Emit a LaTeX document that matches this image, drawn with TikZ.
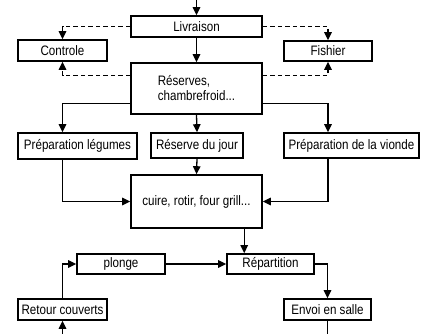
\documentclass[tikz,border=0pt]{standalone}
\usepackage{fontspec}
\usepackage{graphicx}
\setmainfont{Liberation Sans}
\usetikzlibrary{arrows.meta,calc}
\newcommand{\tall}[1]{\scalebox{1}[1.18]{#1}}
\tikzset{
  box/.style={
    draw,
    line width=1.6pt,
    inner sep=0pt,
    font=\fontsize{11.6}{15}\selectfont
  },
  link/.style={
    line width=1.3pt,
    -{Triangle[length=8pt,width=7.5pt]}
  },
  dlink/.style={
    link,
    dash pattern=on 4.5pt off 3pt
  }
}

\begin{document}
\begin{tikzpicture}[x=1pt,y=-1pt]
        \useasboundingbox (0,0) rectangle (421,334);
        \node[box,minimum width=131pt,minimum height=21pt] (liv) at (196.5,26.5) {\tall{Livraison}};
        \node[box,minimum width=89pt,minimum height=21pt] (ctrl) at (62.5,50.5) {\tall{Controle}};
        \node[box,minimum width=88pt,minimum height=20pt] (fish) at (328,51) {\tall{Fishier}};
        \node[box,minimum width=131pt,minimum height=51pt,align=left] (res) at (196.5,88.5) {\tall{R\'eserves,}\\\tall{chambrefroid...}};
        \node[box,minimum width=119pt,minimum height=26pt] (legu) at (77.5,146) {\tall{Pr\'eparation l\'egumes}};
        \node[box,minimum width=92pt,minimum height=25pt] (jour) at (197,145.5) {\tall{R\'eserve du jour}};
        \node[box,minimum width=135pt,minimum height=25pt] (viand) at (351.5,145.5) {\tall{Pr\'eparation de la vionde}};
        \node[box,minimum width=131pt,minimum height=53pt] (cuire) at (196.5,201.5) {\tall{cuire, rotir, four grill...}};
        \node[box,minimum width=87pt,minimum height=20pt] (rep) at (270.5,264) {\tall{R\'epartition}};
        \node[box,minimum width=88pt,minimum height=20pt] (plonge) at (121,264) {\tall{plonge}};
        \node[box,minimum width=87pt,minimum height=21pt] (envoi) at (327.5,309.5) {\tall{Envoi en salle}};
        \node[box,minimum width=89pt,minimum height=21pt] (retour) at (62.5,309.5) {\tall{Retour couverts}};

        \coordinate (in) at (196.5,0);
        \coordinate (back) at (62.5,334);
        \coordinate (out) at (327.5,334);
        \coordinate (resup) at ($(res.north west)!0.25!(res.south west)$);
        \coordinate (resupr) at ($(res.north east)!0.25!(res.south east)$);
        \coordinate (reslo) at ($(res.north west)!0.78!(res.south west)$);
        \coordinate (reslor) at ($(res.north east)!0.78!(res.south east)$);
        \coordinate (cut) at ([xshift=18pt]rep.north west);

        \draw[link] (in) -- (liv.north);
        \draw[link] (liv.south) -- (res.north);
        \draw[dlink] (liv.west) -| (ctrl.north);
        \draw[dlink] (liv.east) -| (fish.north);
        \draw[dlink] (resup) -| (ctrl.south);
        \draw[dlink] (resupr) -| (fish.south);
        % vers les preparations
        \draw[link] (reslo) -| (ctrl |- legu.north);
        \draw[link] (reslor) -| (fish |- viand.north);
        \draw[link] (res.south) -- (jour.north);
        \draw[link] (jour.south) -- (cuire.north);
        \draw[link] (ctrl |- legu.south) |- (cuire.west);
        \draw[link] (fish |- viand.south) |- (cuire.east);
        % sortie
        \draw[link] (cut |- cuire.south) -- (cut);
        \draw[link] (plonge.east) -- (rep.west);
        \draw[link] (rep.east) -| (envoi.north);
        \draw[link] (retour.north) |- (plonge.west);
        \draw[link] (back) -- (retour.south);
        \draw[line width=1.3pt] (envoi.south) -- (out);
\end{tikzpicture}
\end{document}
